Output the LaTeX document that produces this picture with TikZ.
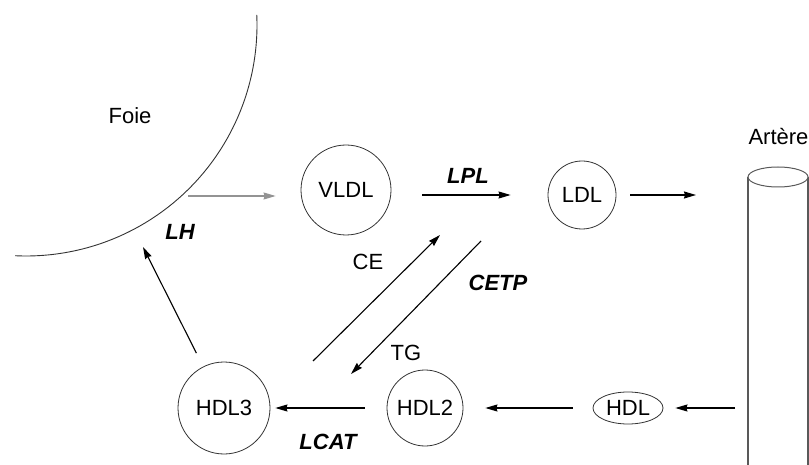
\documentclass[tikz,border=0pt]{standalone}
\usepackage{fontspec}
\setmainfont{Liberation Sans}
\usetikzlibrary{arrows.meta,shapes.geometric}
\begin{document}
\begin{tikzpicture}[x=1pt,y=-1pt,
  every node/.style={font=\fontsize{22}{26}\selectfont},
  lipo/.style={circle,draw=black!80,line width=0.8pt,inner sep=0pt},
  arr/.style={line width=1.1pt,-{Stealth[length=12pt,width=7pt,inset=1pt]}},
  enz/.style={font=\fontsize{22}{26}\selectfont\bfseries\itshape},
  wall/.style={draw=gray!70!black,line width=1.3pt}]
\useasboundingbox (0,0) rectangle (809,465);
% liver
\draw[black!80,line width=0.9pt] plot[domain=-2.5:92.7,samples=80,smooth] ({26+231*cos(\x)},{25+231*sin(\x)});
\node (foie) at (130,116) {Foie};
% artery
\node[anchor=west] (artere) at (745,137) {Artère};
\coordinate (artL) at (748,177);
\coordinate (artR) at (808,177);
\draw[wall] (artL) -- (748,470);
\draw[wall] (artR) -- (808,470);
\draw[gray!70!black,line width=1pt,fill=white] (778,177) ellipse [x radius=30, y radius=10];
% lipoproteins
\node[lipo,minimum size=90pt] (vldl) at (346,190) {VLDL};
\node[lipo,minimum size=68pt] (ldl) at (582,195) {LDL};
\node[lipo,minimum size=92pt] (hdl3) at (224,408) {HDL3};
\node[lipo,minimum size=76pt] (hdl2) at (425,408) {HDL2};
\node[ellipse,draw=black!80,line width=0.8pt,inner sep=0pt,minimum width=70pt,minimum height=32pt] (hdl) at (628,408) {HDL};
% labels
\node[enz] (lh) at (180,232) {LH};
\node[enz] (lpl) at (468,176) {LPL};
\node (ce) at (368,262) {CE};
\node[enz] (cetp) at (498,283) {CETP};
\node (tg) at (406,353) {TG};
\node[enz] (lcat) at (328,442) {LCAT};
% free ends
\coordinate (foieout) at (188,196);
\coordinate (lhtip) at (143,247);
\coordinate (ce1) at (313,361);
\coordinate (ce2) at (440,235);
\coordinate (cetp1) at (481,241);
\coordinate (cetp2) at (351,374);
% connectors
\draw[arr,draw=gray!85] (foieout) -- (vldl.west |- foieout) [shorten >=25pt];
\draw[arr,shorten <=31pt,shorten >=37pt] (vldl.east |- ldl) -- (ldl);
\draw[arr,shorten <=14pt,shorten >=52pt] (ldl) -- (artL |- ldl);
\draw[arr,shorten <=13pt,shorten >=12pt] (artL |- hdl) -- (hdl);
\draw[arr,shorten <=20pt,shorten >=22pt] (hdl) -- (hdl2);
\draw[arr,shorten <=22pt,shorten >=5pt] (hdl2) -- (hdl3);
\draw[arr,shorten <=15pt] (hdl3) -- (lhtip);
\draw[arr] (ce1) -- (ce2);
\draw[arr] (cetp1) -- (cetp2);
\end{tikzpicture}
\end{document}
